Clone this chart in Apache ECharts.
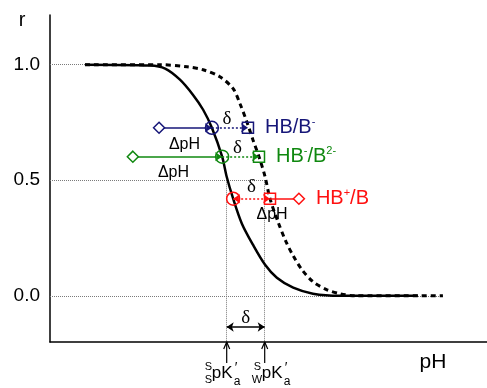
<!DOCTYPE html>
<html><head><meta charset="utf-8">
<script src="https://cdn.jsdelivr.net/npm/echarts@6/dist/echarts.min.js"></script>
<style>html,body{margin:0;padding:0;background:#fff}#c{width:487px;height:388px}</style>
</head><body><div id="c"></div>
<script>
// ---- data ----
// solid curve (sspK'a)
const solidPH = [3.27,4.98,5.38,5.77,6.11,6.38,6.61,6.88,7.00,7.17,7.40,7.69,8.01,8.32,8.75,9.27,9.98,12.03];
const solidR  = [1.000,0.996,0.983,0.935,0.870,0.805,0.727,0.602,0.515,0.420,0.312,0.221,0.134,0.078,0.035,0.009,0.000,0.000];
// dashed curve (swpK'a)
const dashedPH = [3.27,5.24,5.96,6.38,6.82,7.17,7.35,7.53,7.69,7.85,8.01,8.14,8.35,8.56,8.75,8.98,9.27,9.64,9.98,10.38,12.69];
const dashedR  = [1.000,1.000,0.991,0.978,0.948,0.896,0.831,0.753,0.675,0.602,0.515,0.420,0.320,0.234,0.173,0.113,0.061,0.026,0.009,0.000,0.000];
// indicators
const indicatorNames = ['HB/B-','HB-/B2-','HB+/B'];
const indicatorR = [0.727,0.602,0.420];
const diamondPH  = [5.22,4.53,8.90];
const circlePH   = [6.61,6.88,7.17];
const squarePH   = [7.56,7.85,8.14];
// pK'a positions (sspK'a, swpK'a)
const pKa = [7.0, 8.0];
const yTicks = [0.0, 0.5, 1.0];

// ---- styling / layout ----
const X_MIN = 2.35, X_MAX = 13.85, Y_MIN = -0.2, Y_MAX = 1.215;
const colors = ['#161678', '#0f880f', '#ff1010'];
const SANS = '"Liberation Sans", Arial, sans-serif';
const SERIF = '"Liberation Serif", "DejaVu Serif", serif';
const richFmt = ['{n|HB/B}{s|-}', '{n|HB}{s|-}{n|/B}{s|2-}', '{n|HB}{s|+}{n|/B}'];
const deltaOff = [[-3,-9],[-3,-9],[0,-12]];
const dpHOff = [[-1,17],[-4,16],[6,16]];
const bottomArrowR = -0.135;

const chart = echarts.init(document.getElementById('c'), null, {renderer: 'canvas'});
const series = [];

// grid / reference lines
series.push({
  type: 'lines', coordinateSystem: 'cartesian2d', silent: true, z: 1, symbol: 'none',
  lineStyle: {color: '#7a7a7a', width: 1, type: [1, 1], opacity: 1},
  data: [
    {coords: [[X_MIN, yTicks[2]], [solidPH[0], yTicks[2]]]},
    {coords: [[X_MIN, yTicks[1]], [pKa[1], yTicks[1]]]},
    {coords: [[X_MIN, yTicks[0]], [dashedPH[dashedPH.length - 1], yTicks[0]]]},
    {coords: [[pKa[0], yTicks[1]], [pKa[0], Y_MIN]]},
    {coords: [[pKa[1], yTicks[1]], [pKa[1], Y_MIN]]}
  ]
});

// curves
series.push({
  type: 'line', z: 3, silent: true, symbol: 'none', smooth: 0.3,
  data: solidPH.map((x, i) => [x, solidR[i]]),
  lineStyle: {color: '#000', width: 2.5}
});
series.push({
  type: 'line', z: 3, silent: true, symbol: 'none', smooth: 0.3,
  data: dashedPH.map((x, i) => [x, dashedR[i]]),
  lineStyle: {color: '#000', width: 3, type: [5, 4]}
});

// indicators
indicatorNames.forEach((name, i) => {
  const c = colors[i], r = indicatorR[i];
  const rightSide = diamondPH[i] > circlePH[i];
  series.push({
    type: 'lines', coordinateSystem: 'cartesian2d', silent: true, z: 4,
    symbol: rightSide ? ['none', 'none'] : ['none', 'arrow'], symbolSize: 7,
    lineStyle: {color: c, width: 1.5, opacity: 1},
    data: [{coords: rightSide ? [[diamondPH[i], r], [squarePH[i], r]] : [[diamondPH[i], r], [circlePH[i], r]]}]
  });
  series.push({
    type: 'lines', coordinateSystem: 'cartesian2d', silent: true, z: 4,
    symbol: rightSide ? ['arrow', 'arrow'] : ['none', 'arrow'], symbolSize: 7,
    lineStyle: {color: c, width: 1.5, type: [2, 2], opacity: 1},
    data: [{coords: [[circlePH[i], r], [squarePH[i], r]]}]
  });
  series.push({
    type: 'scatter', silent: true, z: 5,
    data: [
      {value: [diamondPH[i], r], symbol: 'diamond', symbolSize: 11, itemStyle: {color: '#fff'}},
      {value: [circlePH[i], r], symbol: 'circle', symbolSize: 13},
      {value: [squarePH[i], r], symbol: 'rect', symbolSize: 11}
    ],
    itemStyle: {color: 'rgba(255,255,255,0)', borderColor: c, borderWidth: 1.5, opacity: 1}
  });
  series.push({
    type: 'scatter', silent: true, z: 6, symbolSize: 0,
    itemStyle: {opacity: 1},
    data: [{value: [Math.max(diamondPH[i], squarePH[i]), r]}],
    label: {
      show: true, position: 'right', distance: 17, formatter: richFmt[i],
      rich: {
        n: {fontSize: 20, fontFamily: SANS, color: c, lineHeight: 22},
        s: {fontSize: 11, fontFamily: SANS, color: c, lineHeight: 10, verticalAlign: 'top'}
      }
    }
  });
  // δ and ΔpH annotations
  series.push({
    type: 'scatter', silent: true, z: 6, symbolSize: 0,
    itemStyle: {opacity: 1},
    data: [
      {value: [(circlePH[i] + squarePH[i]) / 2, r],
       label: {formatter: 'δ', offset: deltaOff[i], fontFamily: SERIF, fontSize: 19}},
      {value: [(diamondPH[i] + circlePH[i]) / 2, r],
       label: {formatter: 'ΔpH', offset: dpHOff[i], fontFamily: SANS, fontSize: 16}}
    ],
    label: {show: true, position: 'inside', color: '#000'}
  });
});

// bottom δ arrow between pK'a values
series.push({
  type: 'lines', coordinateSystem: 'cartesian2d', silent: true, z: 4,
  symbol: ['arrow', 'arrow'], symbolSize: 7,
  lineStyle: {color: '#000', width: 1.5, opacity: 1},
  data: [{coords: [[pKa[0], bottomArrowR], [pKa[1], bottomArrowR]]}]
});
series.push({
  type: 'scatter', silent: true, z: 6, symbolSize: 0, itemStyle: {opacity: 1},
  data: [{value: [(pKa[0] + pKa[1]) / 2, bottomArrowR]}],
  label: {show: true, position: 'inside', formatter: 'δ', offset: [0, -9], fontFamily: SERIF, fontSize: 19, color: '#000'}
});

const option = {
  animation: false,
  backgroundColor: '#fff',
  grid: {left: 50, right: 0, top: 15, bottom: 46, containLabel: false},
  xAxis: {
    type: 'value', min: X_MIN, max: X_MAX,
    axisLine: {show: true, onZero: false, lineStyle: {color: '#000', width: 1.5}},
    axisTick: {show: false}, axisLabel: {show: false}, splitLine: {show: false}
  },
  yAxis: {
    type: 'value', min: Y_MIN, max: Y_MAX,
    axisLine: {show: true, onZero: false, lineStyle: {color: '#000', width: 1.5}},
    axisTick: {show: false}, splitLine: {show: false},
    axisLabel: {
      show: true, customValues: yTicks, margin: 10, fontSize: 19, fontFamily: SANS, color: '#000',
      formatter: v => v.toFixed(1)
    }
  },
  series: series
};
chart.setOption(option);

// axis names and pK'a labels
const g = [];
g.push({type: 'text', x: 22, y: 20, style: {text: 'r', font: '20px ' + SANS, fill: '#000', textAlign: 'center', textVerticalAlign: 'middle'}});
g.push({type: 'text', x: 433, y: 362.5, style: {text: 'pH', font: '21px ' + SANS, fill: '#000', textAlign: 'center', textVerticalAlign: 'middle'}});
const preSub = ['S', 'W'];
const layouts = [
  {sup: -22, sub: -22, pk: -15, a: 7},
  {sup: -11, sub: -13, pk: -3, a: 19}
];
pKa.forEach((p, k) => {
  const px = chart.convertToPixel({gridIndex: 0}, [p, Y_MIN]);
  const X = px[0], Y = px[1];
  const L = layouts[k];
  g.push({type: 'polyline', shape: {points: [[X, Y + 21], [X, Y]]}, style: {stroke: '#000', lineWidth: 1.2, fill: null}});
  g.push({type: 'polyline', shape: {points: [[X - 3, Y + 7], [X, Y], [X + 3, Y + 7]]}, style: {stroke: '#000', lineWidth: 1.2, fill: null}});
  const t = (txt, x, y, size) => g.push({type: 'text', x: x, y: y, style: {text: txt, font: size + 'px ' + SANS, fill: '#000', textAlign: 'left', textVerticalAlign: 'middle'}});
  t('S', X + L.sup, Y + 25, 11);
  t(preSub[k], X + L.sub, Y + 37.5, 11);
  t('pK', X + L.pk, Y + 31, 17);
  t('′', X + L.a + 1, Y + 26, 14);
  t('a', X + L.a, Y + 40, 12);
});
chart.setOption({graphic: g});
</script>
</body></html>
